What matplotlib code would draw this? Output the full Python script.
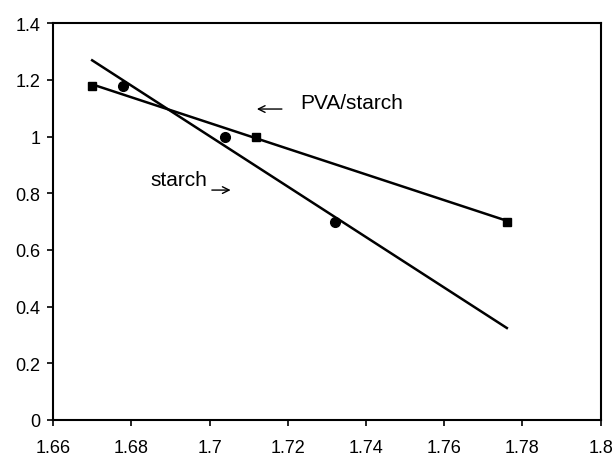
import numpy as np
import matplotlib
matplotlib.use('Agg')
import matplotlib.pyplot as plt

plt.rcParams['font.family'] = ['Liberation Sans', 'DejaVu Sans']

# data
pva_x = [1.670, 1.712, 1.776]
pva_y = [1.18, 1.00, 0.70]
starch_x = [1.678, 1.704, 1.732]
starch_y = [1.18, 1.00, 0.70]

fig = plt.figure(figsize=(6.13, 4.56), dpi=100)
ax = fig.add_axes([0.0865, 0.077, 0.8935, 0.870])

# trend lines (linear fits) over the range of the PVA/starch points
xfit = np.array([min(pva_x), max(pva_x)])
p1 = np.polyfit(pva_x, pva_y, 1)
p2 = np.polyfit(starch_x, starch_y, 1)
ax.plot(xfit, np.polyval(p1, xfit), color='black', lw=1.8)
ax.plot(xfit, np.polyval(p2, xfit), color='black', lw=1.8)

ax.plot(pva_x, pva_y, 's', color='black', ms=6)
ax.plot(starch_x, starch_y, 'o', color='black', ms=7)

# labels with thin arrows
ax.annotate('', xy=(1.7121, 1.097), xytext=(1.7185, 1.097),
            arrowprops=dict(arrowstyle='->', lw=1.0, color='black',
                            mutation_scale=12, shrinkA=0, shrinkB=0))
ax.text(1.7231, 1.120, 'PVA/starch', fontsize=15, ha='left', va='center')
ax.text(1.6848, 0.850, 'starch', fontsize=15, ha='left', va='center')
ax.annotate('', xy=(1.7054, 0.811), xytext=(1.7006, 0.811),
            arrowprops=dict(arrowstyle='->', lw=1.0, color='black',
                            mutation_scale=12, shrinkA=0, shrinkB=0))

ax.set_xlim(1.66, 1.8)
ax.set_ylim(0, 1.4)
ax.set_xticks(np.arange(1.66, 1.801, 0.02))
ax.set_xticklabels(['1.66', '1.68', '1.7', '1.72', '1.74', '1.76', '1.78', '1.8'])
ax.set_yticks(np.arange(0, 1.41, 0.2))
ax.set_yticklabels(['0', '0.2', '0.4', '0.6', '0.8', '1', '1.2', '1.4'])
ax.tick_params(direction='out', length=4, width=1.2, labelsize=13)
ax.tick_params(axis='x', pad=10)
ax.tick_params(axis='y', pad=5)
for s in ax.spines.values():
    s.set_linewidth(1.5)

fig.savefig('out.png', dpi=100)
